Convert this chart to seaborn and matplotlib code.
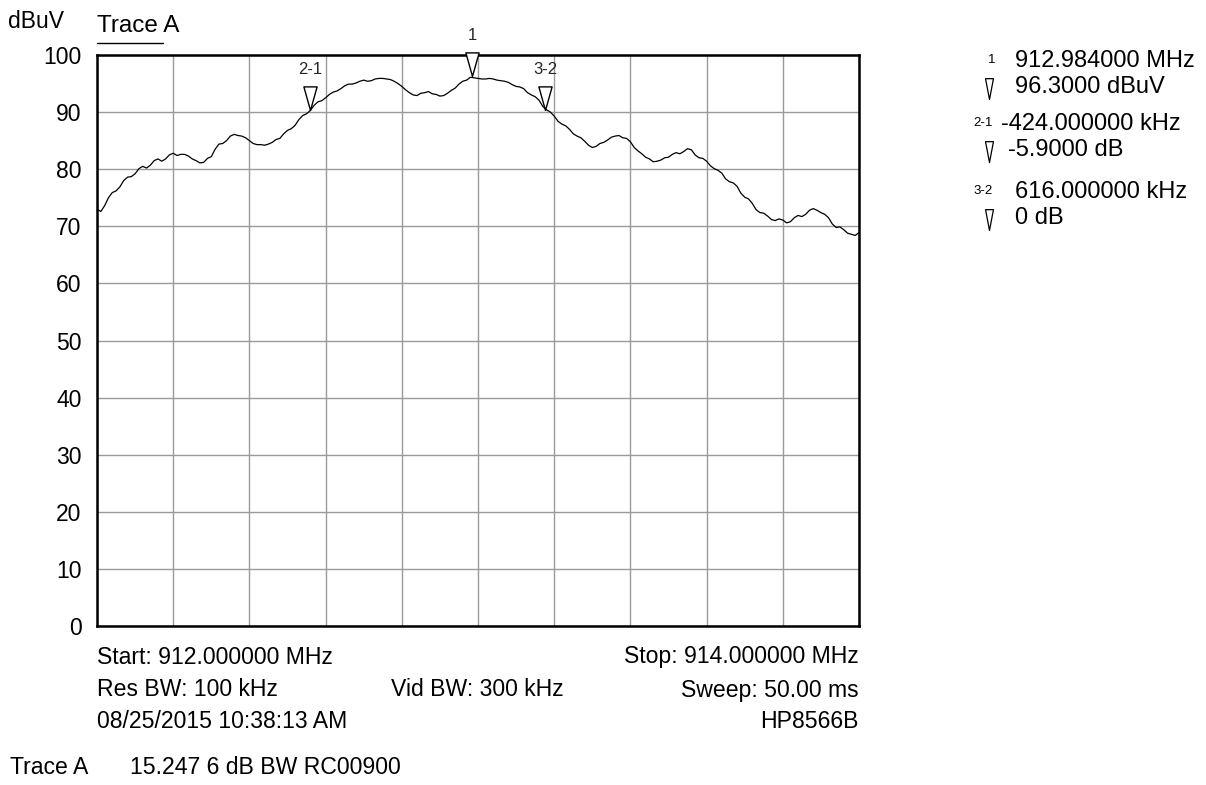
import numpy as np
import seaborn as sns
import matplotlib.pyplot as plt
from matplotlib.path import Path
from matplotlib.lines import Line2D

# ── data (one row = 0.1 MHz) ────────────────────────────────────────────────
freq_mhz = [
    912.00, 912.01, 912.02, 912.03, 912.04, 912.05, 912.06, 912.07, 912.08, 912.09,
    912.10, 912.11, 912.12, 912.13, 912.14, 912.15, 912.16, 912.17, 912.18, 912.19,
    912.20, 912.21, 912.22, 912.23, 912.24, 912.25, 912.26, 912.27, 912.28, 912.29,
    912.30, 912.31, 912.32, 912.33, 912.34, 912.35, 912.36, 912.37, 912.38, 912.39,
    912.40, 912.41, 912.42, 912.43, 912.44, 912.45, 912.46, 912.47, 912.48, 912.49,
    912.50, 912.51, 912.52, 912.53, 912.54, 912.55, 912.56, 912.57, 912.58, 912.59,
    912.60, 912.61, 912.62, 912.63, 912.64, 912.65, 912.66, 912.67, 912.68, 912.69,
    912.70, 912.71, 912.72, 912.73, 912.74, 912.75, 912.76, 912.77, 912.78, 912.79,
    912.80, 912.81, 912.82, 912.83, 912.84, 912.85, 912.86, 912.87, 912.88, 912.89,
    912.90, 912.91, 912.92, 912.93, 912.94, 912.95, 912.96, 912.97, 912.98, 912.99,
    913.00, 913.01, 913.02, 913.03, 913.04, 913.05, 913.06, 913.07, 913.08, 913.09,
    913.10, 913.11, 913.12, 913.13, 913.14, 913.15, 913.16, 913.17, 913.18, 913.19,
    913.20, 913.21, 913.22, 913.23, 913.24, 913.25, 913.26, 913.27, 913.28, 913.29,
    913.30, 913.31, 913.32, 913.33, 913.34, 913.35, 913.36, 913.37, 913.38, 913.39,
    913.40, 913.41, 913.42, 913.43, 913.44, 913.45, 913.46, 913.47, 913.48, 913.49,
    913.50, 913.51, 913.52, 913.53, 913.54, 913.55, 913.56, 913.57, 913.58, 913.59,
    913.60, 913.61, 913.62, 913.63, 913.64, 913.65, 913.66, 913.67, 913.68, 913.69,
    913.70, 913.71, 913.72, 913.73, 913.74, 913.75, 913.76, 913.77, 913.78, 913.79,
    913.80, 913.81, 913.82, 913.83, 913.84, 913.85, 913.86, 913.87, 913.88, 913.89,
    913.90, 913.91, 913.92, 913.93, 913.94, 913.95, 913.96, 913.97, 913.98, 913.99,
    914.00,
]
level_dbuv = [
    73.0, 72.6, 73.6, 75.0, 75.9, 76.2, 76.9, 78.0, 78.6, 78.7,
    79.2, 80.1, 80.5, 80.2, 80.7, 81.5, 81.8, 81.4, 81.8, 82.5,
    82.8, 82.4, 82.6, 82.6, 82.3, 81.8, 81.5, 81.1, 81.2, 81.9,
    82.2, 83.5, 84.4, 84.5, 85.0, 85.8, 86.1, 85.9, 85.8, 85.5,
    85.0, 84.5, 84.3, 84.3, 84.2, 84.4, 84.7, 85.2, 85.4, 86.2,
    86.8, 87.1, 87.7, 88.7, 89.4, 89.7, 90.3, 91.2, 91.8, 92.0,
    92.5, 93.1, 93.5, 93.7, 94.1, 94.6, 94.9, 94.9, 95.1, 95.4,
    95.6, 95.4, 95.5, 95.8, 95.9, 95.9, 95.8, 95.7, 95.4, 95.0,
    94.5, 93.9, 93.4, 93.0, 92.9, 93.3, 93.4, 93.6, 93.2, 93.1,
    92.8, 92.9, 93.3, 93.8, 94.2, 94.9, 95.4, 95.6, 96.1, 96.0,
    95.9, 95.8, 95.8, 95.9, 95.8, 95.6, 95.5, 95.4, 95.2, 94.8,
    94.5, 94.4, 94.1, 93.4, 93.0, 92.7, 92.1, 91.0, 90.4, 90.0,
    89.3, 88.4, 87.9, 87.6, 87.0, 86.2, 85.8, 85.5, 84.9, 84.2,
    83.8, 84.0, 84.5, 84.7, 85.1, 85.6, 85.8, 85.9, 85.5, 85.4,
    84.8, 83.8, 83.2, 82.7, 82.1, 81.8, 81.3, 81.4, 81.6, 82.0,
    82.1, 82.6, 82.9, 82.7, 83.1, 83.6, 83.4, 82.5, 82.0, 81.9,
    81.4, 80.6, 80.1, 79.8, 79.3, 78.3, 77.8, 77.6, 77.0, 75.8,
    75.1, 74.8, 74.0, 72.9, 72.4, 72.3, 71.8, 71.2, 71.0, 71.3,
    71.1, 70.6, 70.8, 71.5, 71.9, 71.7, 72.1, 72.8, 73.1, 72.8,
    72.4, 72.1, 71.5, 70.4, 69.8, 69.9, 69.4, 68.8, 68.6, 68.4,
    68.9,
]

marker_labels = ["1", "2-1", "3-2"]
marker_freq = [912.984, 912.560, 913.176]
marker_level = [96.3, 90.4, 90.4]

y_ticks = [0, 10, 20, 30, 40, 50, 60, 70, 80, 90, 100]
x_ticks = [912.0, 912.2, 912.4, 912.6, 912.8, 913.0, 913.2, 913.4, 913.6, 913.8, 914.0]

# right-hand marker readout: (tag, first line, second line)
readout = [
    ("1", "912.984000 MHz", "96.3000 dBuV"),
    ("2-1", "-424.000000 kHz", "-5.9000 dB"),
    ("3-2", "616.000000 kHz", "0 dB"),
]

# ── style ───────────────────────────────────────────────────────────────────
sns.set_style("white")
plt.rcParams["font.family"] = ["Liberation Sans", "DejaVu Sans"]

W, H = 1206, 785
fig = plt.figure(figsize=(W / 100, H / 100), dpi=100)
ax = fig.add_axes([97 / W, 1 - 626 / H, 762 / W, 571 / H])


def ftext(x, y, s, **kw):
    # place text in figure pixel coords (origin top-left)
    kw.setdefault("va", "center")
    kw.setdefault("color", "black")
    fig.text(x / W, 1 - y / H, s, **kw)


def down_triangle(half_width):
    # downward triangle whose tip sits on the anchor point
    return Path([(-half_width, 1.0), (half_width, 1.0), (0.0, 0.0), (-half_width, 1.0)],
                [Path.MOVETO, Path.LINETO, Path.LINETO, Path.CLOSEPOLY])


tri_big = down_triangle(0.28)
tri_small = down_triangle(0.19)

# ── trace ───────────────────────────────────────────────────────────────────
sns.lineplot(x=freq_mhz, y=level_dbuv, color="black", linewidth=0.9, ax=ax)

ax.set_xlim(912.0, 914.0)
ax.set_ylim(0, 100)
ax.set_xticks(x_ticks)
ax.set_xticklabels([])
ax.set_yticks(y_ticks)
ax.set_yticklabels([str(v) for v in y_ticks])
ax.tick_params(axis="both", length=0, labelsize=16.5, pad=11, colors="black")
ax.grid(True, color="#9a9a9a", linewidth=1.0)
ax.set_xlabel("")
ax.set_ylabel("")
for sp in ax.spines.values():
    sp.set_color("black")
    sp.set_linewidth(1.8)

# ── markers ─────────────────────────────────────────────────────────────────
for lab, f, lv in zip(marker_labels, marker_freq, marker_level):
    ax.plot([f], [lv], marker=tri_big, markersize=34, markerfacecolor="white",
            markeredgecolor="black", markeredgewidth=1.0, linestyle="none",
            clip_on=False, zorder=5)
    ax.annotate(lab, (f, lv), xytext=(0, 29), textcoords="offset points",
                ha="center", va="center", fontsize=12, annotation_clip=False)

# ── header ──────────────────────────────────────────────────────────────────
ftext(8, 22, "dBuV", ha="left", fontsize=16.5)
ftext(97, 26, "Trace A", ha="left", fontsize=17.5)
fig.add_artist(Line2D([97 / W, 163 / W], [1 - 43 / H, 1 - 43 / H],
                      color="black", linewidth=1.0))

# ── marker readout on the right ─────────────────────────────────────────────
tag_x = [988, 973, 973]
line1_x = [1015, 1001, 1015]
line2_x = [1015, 1008, 1015]
row_y = [61, 124, 192]
for (tag, l1, l2), tx, x1, x2, y in zip(readout, tag_x, line1_x, line2_x, row_y):
    ftext(tx, y - 1, tag, ha="left", fontsize=9.5)
    ftext(x1, y, l1, ha="left", fontsize=17)
    ftext(x2, y + 26, l2, ha="left", fontsize=17)
    fig.add_artist(Line2D([989 / W], [1 - (y + 38) / H], marker=tri_small,
                          markersize=30, markerfacecolor="white",
                          markeredgecolor="black", markeredgewidth=0.9,
                          linestyle="none"))

# ── footer ──────────────────────────────────────────────────────────────────
foot = 16.6
ftext(97, 657, "Start: 912.000000 MHz", ha="left", fontsize=foot)
ftext(859, 657, "Stop: 914.000000 MHz", ha="right", fontsize=foot)
ftext(97, 690, "Res BW: 100 kHz", ha="left", fontsize=foot)
ftext(477, 690, "Vid BW: 300 kHz", ha="center", fontsize=foot)
ftext(859, 690, "Sweep: 50.00 ms", ha="right", fontsize=foot)
ftext(97, 722, "08/25/2015 10:38:13 AM", ha="left", fontsize=foot)
ftext(859, 722, "HP8566B", ha="right", fontsize=foot)
ftext(10, 768, "Trace A", ha="left", fontsize=foot)
ftext(130, 768, "15.247 6 dB BW RC00900", ha="left", fontsize=foot)

fig.savefig("out.png", dpi=100)
